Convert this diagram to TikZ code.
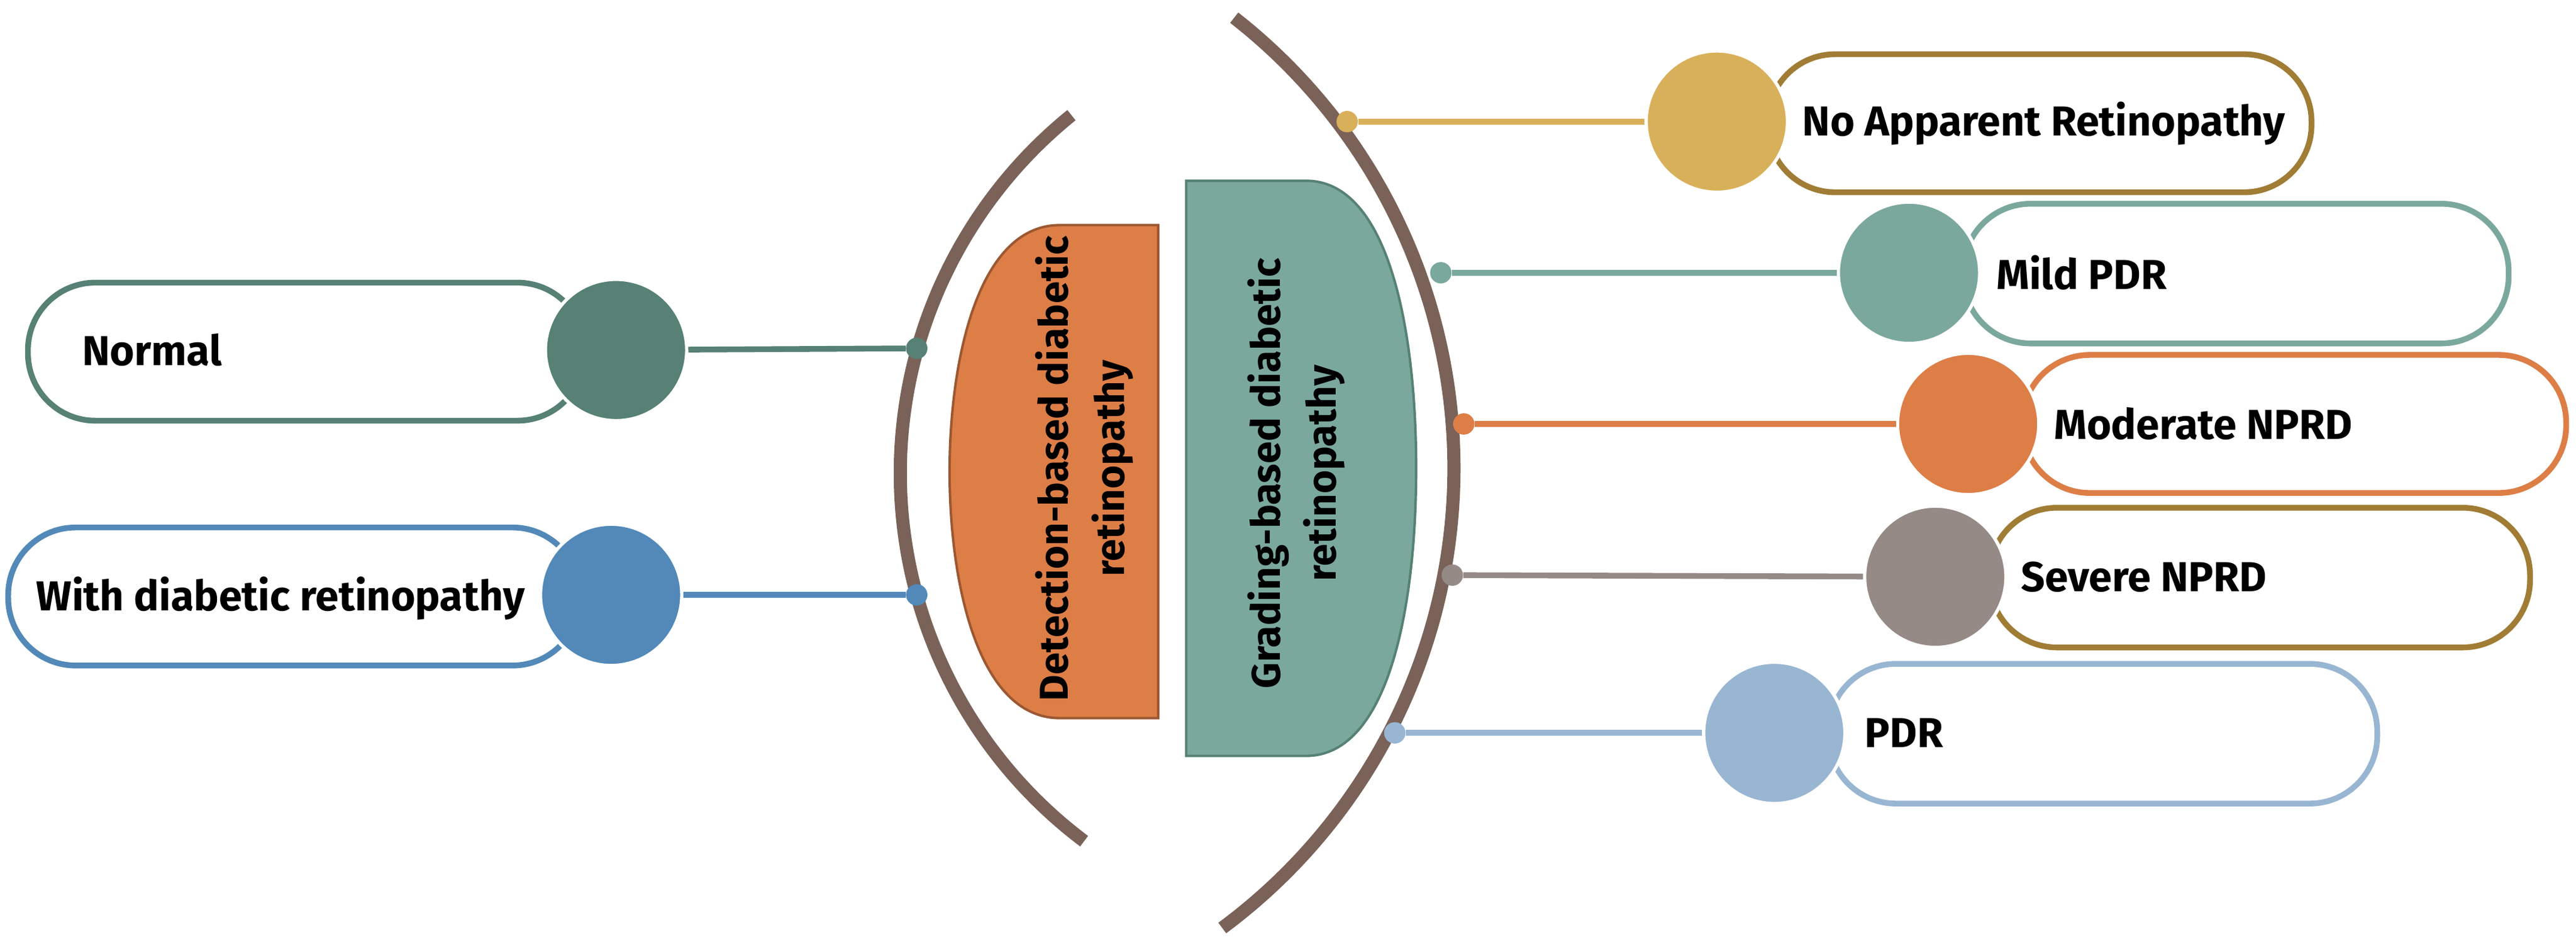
\documentclass[tikz,border=0pt]{standalone}
\usepackage{fontspec}
\setmainfont{Fira Sans}
\begin{document}
\begin{tikzpicture}[x=1pt,y=1pt,
  pill/.style={draw=#1,line width=3.5pt,fill=white,rounded corners=41pt},
  bub/.style={circle,fill=#1,draw=white,line width=2pt,minimum size=86pt,inner sep=0pt},
  dot/.style={circle,fill=#1,minimum size=13pt,inner sep=0pt},
  con/.style={draw=#1,line width=3.5pt},
  lab/.style={font=\bfseries\fontsize{25.5}{30}\selectfont,anchor=west,inner sep=0pt},
  box/.style={rotate=90,align=center,font=\bfseries\fontsize{24.5}{34}\selectfont}]
\definecolor{arcc}{HTML}{7A6259}
\definecolor{gN}{HTML}{568174}
\definecolor{bW}{HTML}{5289B9}
\definecolor{yA}{HTML}{D9B05A}
\definecolor{yS}{HTML}{A07C35}
\definecolor{tM}{HTML}{7BA89D}
\definecolor{oM}{HTML}{DD7E47}
\definecolor{gS}{HTML}{968A86}
\definecolor{lP}{HTML}{98B6D2}
\useasboundingbox (0,0) rectangle (1568,-575);
% arcs
\draw[arcc,line width=8pt] (828,-288) ++(128.9:280) arc[start angle=128.9,end angle=233.1,radius=280];
\draw[arcc,line width=8pt] (537,-285) ++(52:348) arc[start angle=52,end angle=-53.5,radius=348];
% boxes
\fill[oM,draw=oM!70!black,line width=1.5pt] (705,-137) -- (645,-137) .. controls (595,-137) and (578,-220) .. (578,-287) .. controls (578,-354) and (595,-437) .. (645,-437) -- (705,-437) -- cycle;
\node[box] (det) at (660,-285) {Detection-based diabetic\\retinopathy};
\fill[tM,draw=gN,line width=1.5pt] (722,-110) -- (795,-110) .. controls (845,-110) and (862,-200) .. (862,-285) .. controls (862,-370) and (845,-460) .. (795,-460) -- (722,-460) -- cycle;
\node[box] (gra) at (789,-288) {Grading-based diabetic\\retinopathy};
% left items
\draw[pill=gN] (17,-172) rectangle (356,-256);
\draw[pill=bW] (5,-321) rectangle (353,-405);
\node[bub=gN] (cN) at (375,-213) {};
\node[bub=bW] (cW) at (372,-362) {};
\node[dot=gN] (dN) at (558,-212) {};
\node[dot=bW] (dW) at (558,-362) {};
\draw[con=gN] (cN) -- (dN);
\draw[con=bW] (cW) -- (dW);
\node[lab] at (50,-213) {Normal};
\node[lab] at (22,-364) {With diabetic retinopathy};
% right items
\draw[pill=yS] (1076,-33) rectangle (1407,-117);
\draw[pill=tM] (1195,-124) rectangle (1527,-209);
\draw[pill=oM] (1231,-216) rectangle (1562,-300);
\draw[pill=yS] (1211,-309) rectangle (1540,-394);
\draw[pill=lP] (1113,-404) rectangle (1447,-489);
\node[bub=yA] (cA) at (1045,-74) {};
\node[bub=tM] (cM) at (1162,-166) {};
\node[bub=oM] (cO) at (1198,-258) {};
\node[bub=gS] (cS) at (1178,-351) {};
\node[bub=lP] (cP) at (1080,-446) {};
\node[dot=yA] (dA) at (820,-74) {};
\node[dot=tM] (dM) at (877,-166) {};
\node[dot=oM] (dO) at (891,-258) {};
\node[dot=gS] (dS) at (884,-350) {};
\node[dot=lP] (dP) at (849,-446) {};
\draw[con=yA] (dA) -- (cA);
\draw[con=tM] (dM) -- (cM);
\draw[con=oM] (dO) -- (cO);
\draw[con=gS] (dS) -- (cS);
\draw[con=lP] (dP) -- (cP);
\node[lab] at (1097,-75) {No Apparent Retinopathy};
\node[lab] at (1215,-166) {Mild PDR};
\node[lab] at (1250,-258) {Moderate NPRD};
\node[lab] at (1230,-351) {Severe NPRD};
\node[lab] at (1135,-446) {PDR};
\end{tikzpicture}
\end{document}
